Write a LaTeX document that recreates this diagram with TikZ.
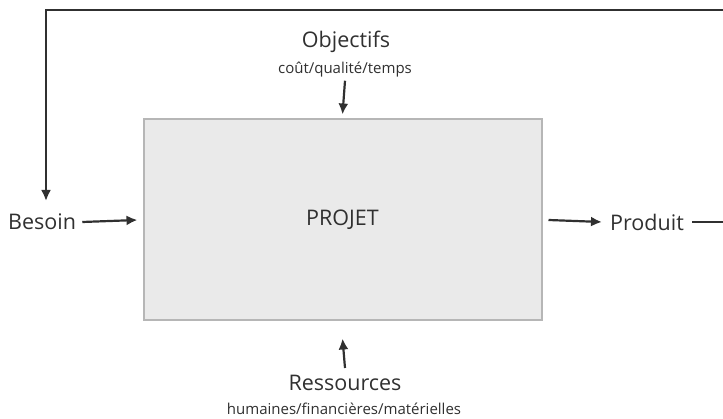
\documentclass[tikz,border=0pt]{standalone}
\usepackage{fontspec}
\setmainfont{Open Sans}
\usetikzlibrary{arrows.meta,positioning}
\definecolor{boxfill}{HTML}{EAEAEA}
\definecolor{boxline}{HTML}{B6B6B6}
\definecolor{ink}{HTML}{303030}
\tikzset{
    flow/.style={-{Latex[length=11pt,width=10pt]}, line width=2.2pt, ink},
    label/.style={font=\fontsize{21.5}{24}\selectfont, text=ink, inner sep=1pt},
    sublabel/.style={font=\fontsize{15}{17}\selectfont, text=ink, inner sep=1pt}
}
\begin{document}
\begin{tikzpicture}[x=1pt, y=-1pt]
    \useasboundingbox (0,0) rectangle (723,419);

    % The project box
    \node[draw=boxline, fill=boxfill, line width=2pt, minimum width=398pt,
          minimum height=201pt, inner sep=0pt, label] (projet) at (342.5,220) {PROJET};

    % Inputs and outputs
    \node[label, anchor=west] (besoin) at (7,222) {Besoin};
    \node[label, anchor=west] (produit) at (609,222) {Produit};
    \node[label] (objectifs) at (346,42) {Objectifs};
    \node[sublabel] (objsub) at (345,70) {coût/qualité/temps};
    \node[label] (ressources) at (345,383) {Ressources};
    \node[sublabel] (ressub) at (344,409) {humaines/financières/matérielles};

    % Loop back from the product to the need
    \coordinate (loopright) at (760,222);
    \coordinate (looptop) at (760,10);
    \coordinate (loopleft) at (46,10);
    \coordinate (besointop) at (46,201);

    % Arrows
    \draw[flow] ([xshift=5pt]besoin.east) -- ([xshift=-5pt]projet.west);
    \draw[flow] ([xshift=6pt]projet.east) -- ([xshift=-7pt]produit.west);
    \draw[flow] ([yshift=-2pt]objsub.south) -- ([yshift=4pt]projet.north);
    \draw[flow] ([yshift=6pt]ressources.north) -- ([yshift=-17pt]projet.south);
    \draw[flow] ([xshift=7pt]produit.east) -- (loopright) -- (looptop)
        -- (loopleft) -- (besointop);
\end{tikzpicture}
\end{document}
